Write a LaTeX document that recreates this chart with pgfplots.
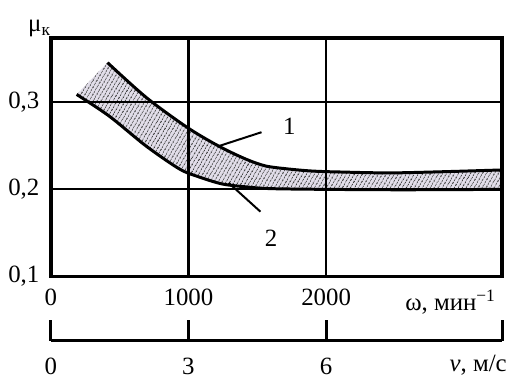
\documentclass[border=0pt]{standalone}
\usepackage{fontspec}
\setmainfont{Liberation Serif}
\usepackage{pgfplots}
\pgfplotsset{compat=1.18}
\usepackage{pgfplotstable}
\usepgfplotslibrary{fillbetween}
\usetikzlibrary{patterns.meta}
\definecolor{bandbg}{HTML}{E2DEEA}
\newcommand\lbl{\fontsize{25bp}{29bp}\selectfont}

% curve 1 (upper edge of the band)
\pgfplotstableread{
x y
412 0.3457
693 0.3057
989 0.2714
1220 0.2497
1415 0.2349
1560 0.2269
1726 0.2234
1892 0.2211
2087 0.2200
2520 0.2190
3278 0.2223
}\curveone

% curve 2 (lower edge)
\pgfplotstableread{
x y
188 0.3091
426 0.2840
693 0.2497
935 0.2234
1076 0.2143
1242 0.2063
1415 0.2029
1653 0.2006
2500 0.1995
3278 0.2000
}\curvetwo

\begin{document}
\lbl
\begin{tikzpicture}
\begin{axis}[
    scale only axis,
    width=454bp, height=240bp,
    xmin=0, xmax=3278, ymin=0.1, ymax=0.3743,
    xtick={0,1000,2000}, xticklabels={0,1000,2000},
    ytick={0.1,0.2,0.3}, yticklabels={{0,1},{0,2},{0,3}},
    grid=major,
    major grid style={black, line width=2.2bp},
    axis line style={line width=3.5bp},
    major tick length=0pt,
    tick label style={font=\lbl},
    xticklabel style={yshift=-4bp},
    yticklabel style={xshift=-3bp},
    axis on top,
]
\addplot[draw=none, name path=A, smooth] table {\curveone};
\addplot[draw=none, name path=B, smooth] table {\curvetwo};
\addplot[fill=bandbg] fill between[of=A and B];
\addplot[pattern={Lines[angle=60,distance=3.6bp,line width=1.1bp]}, pattern color=black!75] fill between[of=A and B];

\addplot[black, line width=3bp, smooth] table {\curveone};
\addplot[black, line width=3bp, smooth] table {\curvetwo};

% leaders
\addplot[black, line width=2bp] coordinates {(1220,0.2497) (1531,0.2657)};
\addplot[black, line width=2bp] coordinates {(1292,0.2074) (1523,0.1743)};
\node[font=\lbl] at (axis cs:1733,0.2726) {1};
\node[font=\lbl] at (axis cs:1600,0.1434) {2};
\end{axis}

% second scale: speed in m/s
\begin{axis}[
    at={(0,-65bp)}, anchor=south west,
    scale only axis,
    width=454bp, height=30bp,
    xmin=0, xmax=9.834, ymin=0, ymax=1,
    axis x line*=bottom, axis y line=none,
    xtick={0,3,6,9.834}, xticklabels={0,3,6,{}},
    tick align=inside, major tick length=21bp,
    x axis line style={line width=3bp},
    tick style={black, line width=3bp},
    tick label style={font=\lbl},
    xticklabel style={yshift=-9bp},
]
\addplot[draw=none] coordinates {(0,0)};
\end{axis}

\node[anchor=base] at (-11.5bp,246bp) {μ\textsubscript{к}};
\node[anchor=base] at (402bp,-34bp) {ω, мин\textsuperscript{−1}};
\node[anchor=base] at (430bp,-96bp) {\textit{v}, м/с};
\path (-51bp,-98bp) rectangle (464bp,278bp);
\end{tikzpicture}
\end{document}
